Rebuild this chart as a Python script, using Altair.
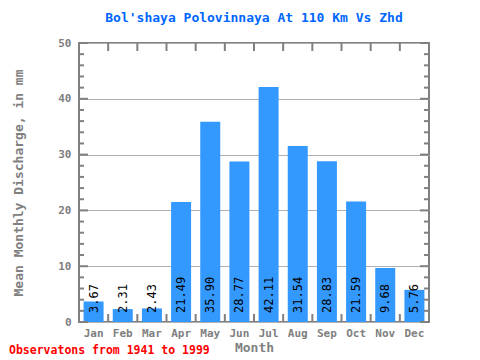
import altair as alt
import pandas as pd

months = ["Jan", "Feb", "Mar", "Apr", "May", "Jun", "Jul", "Aug", "Sep", "Oct", "Nov", "Dec"]
discharge = [3.67, 2.31, 2.43, 21.49, 35.90, 28.77, 42.11, 31.54, 28.83, 21.59, 9.68, 5.76]
y_major = [0, 10, 20, 30, 40, 50]
y_minor = [2, 4, 6, 8, 12, 14, 16, 18, 22, 24, 26, 28, 32, 34, 36, 38, 42, 44, 46, 48]
chart_title = "Bol'shaya Polovinnaya At 110 Km Vs Zhd"
y_title = "Mean Monthly Discharge, in mm"
x_title = "Month"
note = "Observatons from 1941 to 1999"

W, H = 350, 279
GRAY = "#808080"
FONT = "DejaVu Sans Mono"

df = pd.DataFrame({"month": months, "value": discharge})
df_major = pd.DataFrame({"v": y_major})
df_minor = pd.DataFrame({"v": y_minor})
df_edges = pd.DataFrame({"m": months[1:]})
df_note = pd.DataFrame({"t": [note]})

xscale = alt.Scale(domain=months, paddingInner=0, paddingOuter=0)
yscale = alt.Scale(domain=[0, 50], nice=False)

x_axis = alt.Axis(title=x_title, labelAngle=0, ticks=False, domain=False,
                  labelPadding=5, titlePadding=3)
y_axis = alt.Axis(title=y_title, values=y_major, grid=True, gridColor="#b0b0b0",
                  ticks=False, domain=False, labelPadding=8, titlePadding=32)

bars = alt.Chart(df).mark_bar(color="#3399FF", width=alt.RelativeBandSize(0.686)).encode(
    x=alt.X("month:N", scale=xscale, axis=x_axis),
    y=alt.Y("value:Q", scale=yscale, axis=y_axis),
)

labels = alt.Chart(df).transform_calculate(zero="0").mark_text(
    angle=270, align="left", baseline="middle", dx=9,
    font=FONT, fontSize=12, color="black"
).encode(
    x=alt.X("month:N", scale=xscale, axis=x_axis),
    y=alt.Y("zero:Q", scale=yscale, axis=y_axis),
    text=alt.Text("value:Q", format=".2f"),
)

tick_style = dict(color=GRAY, strokeWidth=2)
left_major = alt.Chart(df_major).mark_rule(**tick_style).encode(
    y=alt.Y("v:Q", scale=yscale, axis=y_axis), x=alt.value(0), x2=alt.value(9))
left_minor = alt.Chart(df_minor).mark_rule(**tick_style).encode(
    y=alt.Y("v:Q", scale=yscale, axis=y_axis), x=alt.value(0), x2=alt.value(5))
right_major = alt.Chart(df_major).mark_rule(**tick_style).encode(
    y=alt.Y("v:Q", scale=yscale, axis=y_axis), x=alt.value(W - 9), x2=alt.value(W))
right_minor = alt.Chart(df_minor).mark_rule(**tick_style).encode(
    y=alt.Y("v:Q", scale=yscale, axis=y_axis), x=alt.value(W - 5), x2=alt.value(W))

edge_x = alt.X("m:N", scale=xscale, bandPosition=0, axis=x_axis)
top_ticks = alt.Chart(df_edges).mark_rule(**tick_style).encode(
    x=edge_x, y=alt.value(0), y2=alt.value(8))
bottom_ticks = alt.Chart(df_edges).mark_rule(**tick_style).encode(
    x=edge_x, y=alt.value(H - 8), y2=alt.value(H))

note_text = alt.Chart(df_note).mark_text(
    align="left", baseline="alphabetic", font=FONT, fontSize=11.5,
    fontWeight="bold", color="#FF0000"
).encode(x=alt.value(-70), y=alt.value(H + 32), text="t:N")

chart = alt.layer(
    bars, labels, left_major, left_minor, right_major, right_minor,
    top_ticks, bottom_ticks, note_text
).properties(
    width=W, height=H,
    autosize=alt.AutoSizeParams(type="none"),
    padding={"left": 71, "top": 35, "right": 43, "bottom": 36},
    title=alt.TitleParams(chart_title, font=FONT, fontSize=13, fontWeight="bold",
                          color="#0066FF", offset=12, anchor="middle"),
).configure_view(
    stroke=GRAY, strokeWidth=2
).configure_axis(
    labelFont=FONT, labelFontSize=11, labelFontWeight="bold", labelColor=GRAY,
    titleFont=FONT, titleFontSize=13, titleFontWeight="bold", titleColor=GRAY,
)

chart.save("out.html", embed_options={"renderer": "svg", "actions": False})
